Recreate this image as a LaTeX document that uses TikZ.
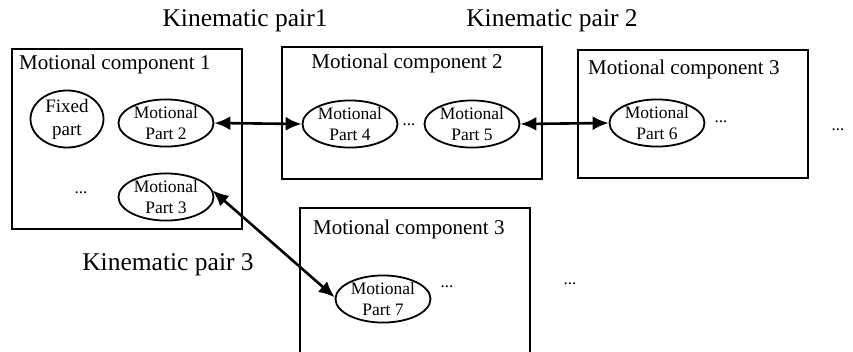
\documentclass[tikz,border=0pt]{standalone}
\usepackage{fontspec}
\setmainfont{Liberation Serif}
\usetikzlibrary{shapes.geometric,arrows.meta}
\begin{document}
\begin{tikzpicture}[x=1pt,y=-1pt,
  compbox/.style={draw,line width=2.2pt,inner sep=0pt},
  ctitle/.style={font=\fontsize{21}{24}\selectfont,inner sep=0pt},
  kplabel/.style={font=\fontsize{25.5}{28}\selectfont,inner sep=0pt},
  part/.style={draw,ellipse,line width=1.8pt,inner sep=0pt,minimum width=95pt,minimum height=47pt,align=center,font=\fontsize{17.5}{21}\selectfont},
  dots/.style={font=\fontsize{17}{20}\selectfont,inner sep=0pt,anchor=base},
  pairarrow/.style={line width=2.6pt,{Latex[length=16pt,width=14pt]}-{Latex[length=16pt,width=14pt]}}
]
\useasboundingbox (0,0) rectangle (853,351);
\clip (0,0) rectangle (853,351);
% boxes
\node[compbox,minimum width=230pt,minimum height=180pt] (c1) at (127,139) {};
\node[compbox,minimum width=260pt,minimum height=132pt] (c2) at (412,113) {};
\node[compbox,minimum width=230pt,minimum height=128pt] (c3) at (693,114) {};
\node[compbox,minimum width=230pt,minimum height=200pt] (c4) at (415,308) {};
% titles
\node[ctitle,anchor=west] (t1) at (19,64) {Motional component 1};
\node[ctitle] (t2) at (407,63) {Motional component 2};
\node[ctitle,anchor=west] (t3) at (588,69) {Motional component 3};
\node[ctitle,anchor=west] (t4) at (313,229) {Motional component 3};
% kinematic pair labels
\node[kplabel] (k1) at (245,21) {Kinematic pair1};
\node[kplabel] (k2) at (552,21) {Kinematic pair 2};
\node[kplabel] (k3) at (168,265) {Kinematic pair 3};
% parts
\node[part,minimum width=73pt,minimum height=57pt,font=\fontsize{19}{23}\selectfont] (fp) at (67,119) {Fixed\\part};
\node[part] (p2) at (166,123) {Motional\\Part 2};
\node[part] (p3) at (166,197) {Motional\\Part 3};
\node[part] (p4) at (350,124) {Motional\\Part 4};
\node[part] (p5) at (472,124) {Motional\\Part 5};
\node[part] (p6) at (657,123) {Motional\\Part 6};
\node[part] (p7) at (383,299) {Motional\\Part 7};
% dots
\node[dots] (d1) at (81,193) {...};
\node[dots] (d2) at (409,125) {...};
\node[dots] (d3) at (721,122) {...};
\node[dots] (d4) at (838,130) {...};
\node[dots] (d5) at (447,287) {...};
\node[dots] (d6) at (570,284) {...};
% connectors
\draw[pairarrow] (p2.east) -- (p4.west);
\draw[pairarrow] (p5.east) -- (p6.west);
\draw[pairarrow] (p3.8) -- (p7.178);
\end{tikzpicture}
\end{document}
